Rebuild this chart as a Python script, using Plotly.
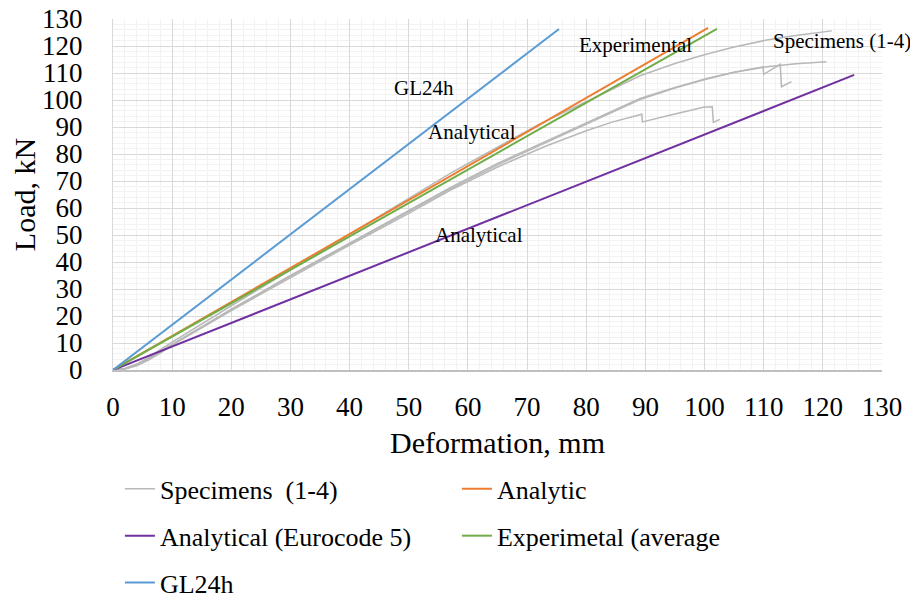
import plotly.graph_objects as go

# ---------------- data ----------------
gl24h_x = [0, 75.4]
gl24h_y = [0, 126.3]
analytic_x = [0, 100.6]
analytic_y = [0, 126.7]
experimental_x = [0, 102.1]
experimental_y = [0, 126.3]
eurocode_x = [0, 125.3]
eurocode_y = [0, 109.3]

specA_x = [0, 2, 4, 6, 8, 10, 20, 30, 40, 50, 57, 65, 72, 80.6, 85, 89.1, 95, 99.8, 105, 110.5, 116, 121.5]
specA_y = [0, 0.6, 2.2, 4.6, 7.5, 10.3, 23.8, 37.0, 50.2, 63.5, 72.8, 82.5, 91.0, 100.0, 104.8, 109.0, 113.5, 116.7, 119.6, 122.2, 124.1, 125.6]

specB_x = [0, 2, 4, 6, 8, 10, 20, 30, 40, 50, 57, 65, 73, 79.5, 84, 89.1, 95, 100.4, 105, 110.5, 115.5, 120.6]
specB_y = [0, 0.5, 2.0, 4.2, 6.8, 9.5, 22.5, 35.0, 47.0, 59.0, 67.5, 76.5, 84.5, 91.0, 95.6, 100.6, 104.6, 108.0, 110.3, 112.3, 113.4, 114.2]

specC_x = [0, 2, 4, 6, 8, 10, 20, 30, 40, 50, 57, 65, 73, 79.5, 84, 89.1, 95, 100.4, 105, 109.9, 110.0, 112.8, 113.0, 114.7]
specC_y = [0, 0.4, 1.8, 4.0, 6.6, 9.4, 22.3, 34.7, 46.7, 58.5, 67.0, 76.0, 84.0, 90.6, 95.2, 100.2, 104.4, 107.8, 110.3, 112.3, 109.5, 113.2, 104.9, 106.8]

specD_x = [0, 2, 4, 6, 8, 10, 20, 30, 40, 50, 57, 65, 73, 80, 84.5, 89.4, 89.5, 95, 99.8, 101.3, 101.5, 102.6]
specD_y = [0, 0.4, 1.6, 3.7, 6.3, 9.2, 22.0, 34.3, 46.3, 58.0, 66.5, 75.2, 82.8, 88.6, 91.9, 94.7, 91.9, 94.8, 97.3, 97.5, 91.7, 92.8]

specimens = [(specA_x, specA_y), (specB_x, specB_y), (specC_x, specC_y), (specD_x, specD_y)]

x_ticks = list(range(0, 131, 10))
y_ticks = list(range(0, 131, 10))

labels_text = ["GL24h", "Analytical", "Analytical", "Experimental", "Specimens (1-4)"]
labels_x = [52.6, 60.7, 61.9, 88.3, 123.3]
labels_y = [104.4, 88.1, 50.0, 120.4, 121.9]

FONT = "Liberation Serif, Times New Roman, serif"

fig = go.Figure()

for i, (sx, sy) in enumerate(specimens):
    fig.add_trace(go.Scatter(
        x=sx, y=sy, mode="lines",
        line=dict(color="#b8b8b8", width=1.5),
        name="Specimens\u00a0\u00a0(1-4)", legendgroup="spec",
        showlegend=(i == 0),
    ))

fig.add_trace(go.Scatter(x=analytic_x, y=analytic_y, mode="lines",
                         line=dict(color="#ED7D31", width=2), name="Analytic"))
fig.add_trace(go.Scatter(x=eurocode_x, y=eurocode_y, mode="lines",
                         line=dict(color="#7030A0", width=2), name="Analytical (Eurocode 5)"))
fig.add_trace(go.Scatter(x=experimental_x, y=experimental_y, mode="lines",
                         line=dict(color="#70AD47", width=2), name="Experimetal (average"))
fig.add_trace(go.Scatter(x=gl24h_x, y=gl24h_y, mode="lines",
                         line=dict(color="#5B9BD5", width=2), name="GL24h"))

for t, lx, ly in zip(labels_text, labels_x, labels_y):
    fig.add_annotation(x=lx, y=ly, text=t, showarrow=False,
                       font=dict(family=FONT, size=21, color="black"))

# the page body has an 8px default margin, so the figure is sized and offset for it
fig.update_layout(
    width=910, height=585,
    margin=dict(l=105, r=36, t=11, b=223, autoexpand=False),
    paper_bgcolor="white", plot_bgcolor="white",
    font=dict(family=FONT, color="black"),
    showlegend=True,
    legend=dict(
        orientation="h", x=0.009, xanchor="left", y=-0.272, yanchor="top",
        entrywidth=292, entrywidthmode="pixels",
        font=dict(family=FONT, size=26, color="black"),
        itemwidth=30, bgcolor="rgba(0,0,0,0)",
    ),
)

fig.update_xaxes(
    range=[0, 130], tickvals=x_ticks, ticktext=[str(v) for v in x_ticks],
    showgrid=True, gridcolor="#d9d9d9", gridwidth=1,
    minor=dict(dtick=2, showgrid=True, gridcolor="#f2f2f2", gridwidth=1),
    showline=True, linecolor="#bfbfbf", linewidth=1.5,
    zeroline=False, ticks="", ticklabelstandoff=12, automargin=False,
    ticklabeloverflow="allow",
    tickfont=dict(family=FONT, size=27, color="black"),
    title=dict(text="Deformation, mm", font=dict(family=FONT, size=30, color="black"), standoff=11),
)
fig.update_yaxes(
    range=[0, 130], tickvals=y_ticks, ticktext=[str(v) for v in y_ticks],
    showgrid=True, gridcolor="#d9d9d9", gridwidth=1,
    minor=dict(dtick=2, showgrid=True, gridcolor="#f2f2f2", gridwidth=1),
    showline=True, linecolor="#d9d9d9", linewidth=1,
    zeroline=False, ticks="", ticklabelstandoff=24, automargin=False,
    ticklabeloverflow="allow",
    tickfont=dict(family=FONT, size=27, color="black"),
    title=dict(text="Load, kN", font=dict(family=FONT, size=30, color="black"), standoff=2),
)

fig.write_html("out.html")
